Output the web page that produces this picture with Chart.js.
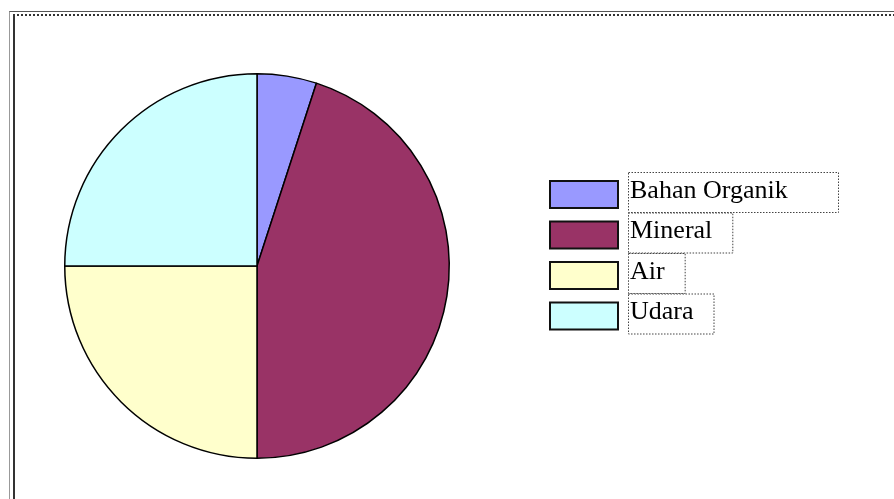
<!DOCTYPE html>
<html>
<head>
<meta charset="utf-8">
<script src="https://cdn.jsdelivr.net/npm/chart.js@4"></script>
<style>
    html, body { margin: 0; padding: 0; background: #fff; overflow: hidden; }
    #wrap { position: relative; width: 894px; height: 499px; }
    #frame {
        position: absolute; left: 9px; top: 11px; width: 900px; height: 500px;
        border-top: 1px solid #555; border-left: 1px solid #999;
    }
    #frame2 {
        position: absolute; left: 13px; top: 14px; width: 900px; height: 500px;
        border-top: 2px dotted #333; border-left: 2px solid #333;
    }
    canvas { position: absolute; left: 0; top: 0; }
</style>
</head>
<body>
<div id="wrap">
    <div id="frame"></div>
    <div id="frame2"></div>
    <canvas id="pie" width="894" height="499"></canvas>
</div>
<script>
// Data
const labels = ['Bahan Organik', 'Mineral', 'Air', 'Udara'];
const values = [5, 45, 25, 25];
const colors = ['#9999FF', '#993366', '#FFFFCC', '#CCFFFF'];

// Legend drawn like the old Excel style (boxes + dotted text frames)
const legendPlugin = {
    id: 'oldLegend',
    afterDraw(chart) {
        const ctx = chart.ctx;
        const x0 = 550, y0 = 181, step = 40.5;
        const boxW = 68, boxH = 27;
        ctx.save();
        ctx.font = '26px "Liberation Serif", "Times New Roman", serif';
        ctx.textBaseline = 'middle';
        chart.data.labels.forEach((lab, i) => {
            const y = y0 + i * step;
            ctx.fillStyle = chart.data.datasets[0].backgroundColor[i];
            ctx.fillRect(x0, y, boxW, boxH);
            ctx.strokeStyle = '#111';
            ctx.lineWidth = 2;
            ctx.strokeRect(x0, y, boxW, boxH);

            const tw = ctx.measureText(lab).width;
            ctx.fillStyle = '#000';
            ctx.fillText(lab, 630, y + 10);

            ctx.setLineDash([1.5, 1.5]);
            ctx.lineWidth = 1;
            ctx.strokeStyle = '#444';
            let fw = tw + 22;
            if (i === 0) fw = 210;
            ctx.strokeRect(628.5, y - 8.5, fw, 40);
            ctx.setLineDash([]);
        });
        ctx.restore();
    }
};

new Chart(document.getElementById('pie'), {
    type: 'pie',
    data: {
        labels: labels,
        datasets: [{
            data: values,
            backgroundColor: colors,
            borderColor: '#000',
            borderWidth: 1.5
        }]
    },
    options: {
        responsive: false,
        animation: false,
        layout: { padding: { left: 64, top: 73, right: 444, bottom: 40 } },
        plugins: { legend: { display: false }, tooltip: { enabled: false } }
    },
    plugins: [legendPlugin]
});
</script>
</body>
</html>
